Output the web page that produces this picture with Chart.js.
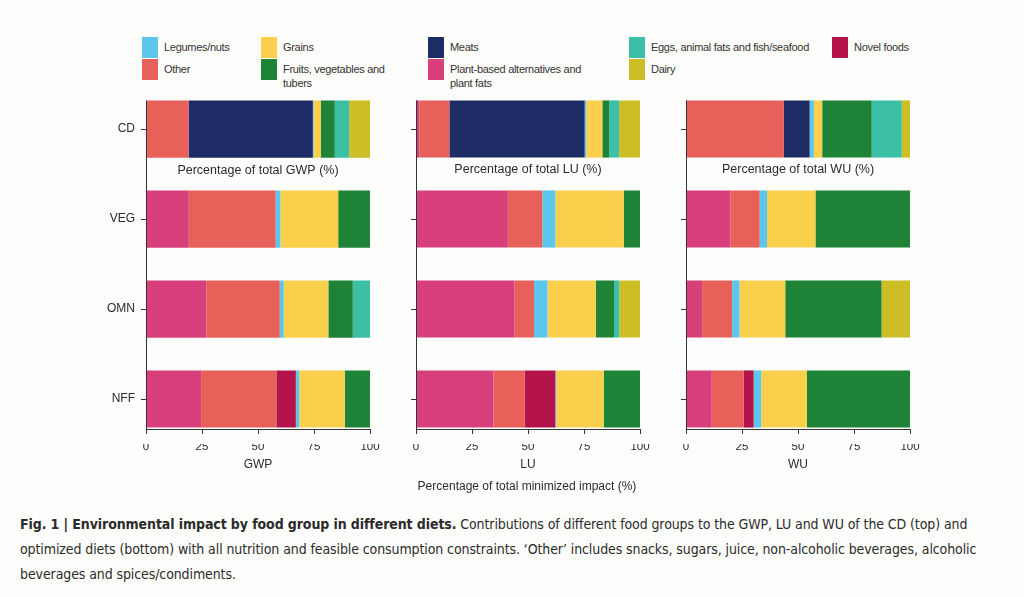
<!DOCTYPE html>
<html>
<head>
<meta charset="utf-8">
<script src="https://cdn.jsdelivr.net/npm/chart.js@4.4.1/dist/chart.umd.min.js"></script>
<style>
  html, body { margin: 0; padding: 0; background: #fdfdfb; }
  body { width: 1024px; height: 597px; position: relative; overflow: hidden; font-family: "Liberation Sans", Arial, sans-serif; color: #2b2b2b; }
  .panel { position: absolute; top: 77px; width: 284px; height: 403px; }
  .lg { position: absolute; font-family: "Liberation Sans", Arial, sans-serif; font-size: 11px; letter-spacing: -0.3px; line-height: 14px; color: #333; }
  .sw { position: absolute; width: 16px; height: 21px; }
  #xtitle { position: absolute; left: 377px; width: 300px; top: 479px; text-align: center; font-size: 12px; color: #2b2b2b; }
  #caption { position: absolute; left: 20px; top: 512px; width: 1000px; font-family: "DejaVu Sans Condensed", "Liberation Sans", sans-serif; font-size: 14px; letter-spacing: -0.1px; line-height: 25px; color: #2b2b2b; white-space: nowrap; }
</style>
</head>
<body>
<div id="legend"></div>
<div class="panel" style="left:96px"><canvas id="c1" width="284" height="403"></canvas></div>
<div class="panel" style="left:366px"><canvas id="c2" width="284" height="403"></canvas></div>
<div class="panel" style="left:636px"><canvas id="c3" width="284" height="403"></canvas></div>
<div id="xtitle">Percentage of total minimized impact (%)</div>
<div id="caption"><b>Fig. 1 | Environmental impact by food group in different diets.</b> Contributions of different food groups to the GWP, LU and WU of the CD (top) and<br>optimized diets (bottom) with all nutrition and feasible consumption constraints. ‘Other’ includes snacks, sugars, juice, non-alcoholic beverages, alcoholic<br>beverages and spices/condiments.</div>
<script>
// ---- data ----
const diets = ['CD', 'VEG', 'OMN', 'NFF'];
const xTicks = [0, 25, 50, 75, 100];
const groupNames = ['Plant-based alternatives and plant fats', 'Other', 'Meats', 'Novel foods', 'Legumes/nuts', 'Grains', 'Fruits, vegetables and tubers', 'Eggs, animal fats and fish/seafood', 'Dairy'];
const groupColors = ['#d8407c', '#e8605a', '#1f2d66', '#b3124a', '#5cc6ec', '#f9cf4c', '#1e8237', '#3cbfa4', '#cdbd27'];

// GWP (% of total)
const gwpPlant   = [0, 19.1, 26.9, 24.6];
const gwpOther   = [19.0, 38.8, 32.8, 33.6];
const gwpMeats   = [55.5, 0, 0, 0];
const gwpNovel   = [0, 0, 0, 8.7];
const gwpLegumes = [0.3, 2.1, 1.8, 1.5];
const gwpGrains  = [3.2, 25.8, 19.9, 20.4];
const gwpFruits  = [6.3, 14.2, 10.9, 11.2];
const gwpEggs    = [6.4, 0, 7.7, 0];
const gwpDairy   = [9.3, 0, 0, 0];

// LU (% of total)
const luPlant   = [1.5, 41.0, 44.0, 34.6];
const luOther   = [13.4, 15.4, 8.7, 13.9];
const luMeats   = [60.4, 0, 0, 0];
const luNovel   = [0, 0, 0, 13.7];
const luLegumes = [0.7, 5.8, 6.0, 0.4];
const luGrains  = [7.2, 30.6, 21.6, 21.2];
const luFruits  = [3.0, 7.2, 8.1, 16.2];
const luEggs    = [4.5, 0, 2.4, 0];
const luDairy   = [9.3, 0, 9.2, 0];

// WU (% of total)
const wuPlant   = [0, 19.9, 7.2, 11.5];
const wuOther   = [43.7, 13.0, 13.4, 14.2];
const wuMeats   = [11.5, 0, 0, 0];
const wuNovel   = [0, 0, 0, 4.5];
const wuLegumes = [1.9, 3.3, 3.3, 3.4];
const wuGrains  = [3.7, 21.6, 20.4, 20.4];
const wuFruits  = [22.1, 42.2, 43.0, 46.0];
const wuEggs    = [13.4, 0, 0, 0];
const wuDairy   = [3.7, 0, 12.7, 0];

const panelTitles = ['GWP', 'LU', 'WU'];
const panelLabels = ['Percentage of total GWP (%)', 'Percentage of total LU (%)', 'Percentage of total WU (%)'];

// ---- legend (HTML) ----
const legendOrder = [
  [4, 142, 37], [5, 261, 37], [2, 428, 37], [7, 629, 37], [3, 832, 37],
  [1, 142, 59], [6, 261, 59], [0, 428, 59], [8, 629, 59]
];
const legendText = {0: 'Plant-based alternatives and<br>plant fats', 6: 'Fruits, vegetables and<br>tubers'};
const lgDiv = document.getElementById('legend');
legendOrder.forEach(([gi, lx, ly]) => {
  const sw = document.createElement('div');
  sw.className = 'sw';
  sw.style.left = lx + 'px'; sw.style.top = ly + 'px'; sw.style.background = groupColors[gi];
  lgDiv.appendChild(sw);
  const t = document.createElement('div');
  t.className = 'lg';
  t.style.left = (lx + 22) + 'px'; t.style.top = (ly + 3) + 'px';
  t.innerHTML = legendText[gi] || groupNames[gi];
  lgDiv.appendChild(t);
});

const BAR_PCT = 0.635;

const axesPlugin = {
  id: 'customAxes',
  afterDraw(chart) {
    const { ctx } = chart;
    const x = chart.scales.x, y = chart.scales.y;
    const step = y.getPixelForValue(1) - y.getPixelForValue(0);
    const half = step * BAR_PCT / 2;
    const top = y.getPixelForValue(0) - half;
    const axisY = Math.round(y.getPixelForValue(diets.length - 1) + half + 1);
    ctx.save();
    ctx.strokeStyle = '#333';
    ctx.lineWidth = 1;
    ctx.beginPath();
    ctx.moveTo(x.left + 0.5, top);
    ctx.lineTo(x.left + 0.5, axisY + 0.5);
    ctx.lineTo(x.right, axisY + 0.5);
    diets.forEach((d, i) => {
      const py = Math.round(y.getPixelForValue(i)) + 0.5;
      ctx.moveTo(x.left - 5, py); ctx.lineTo(x.left, py);
    });
    xTicks.forEach(v => {
      const px = Math.round(x.getPixelForValue(v)) + 0.5;
      ctx.moveTo(px, axisY); ctx.lineTo(px, axisY + 5);
    });
    ctx.stroke();
    // section label between CD and VEG
    const midY = (y.getPixelForValue(0) + y.getPixelForValue(1)) / 2;
    ctx.fillStyle = '#2b2b2b';
    ctx.font = '12.5px "Liberation Sans", Arial, sans-serif';
    ctx.textAlign = 'center';
    ctx.textBaseline = 'middle';
    ctx.fillText(chart.options.plugins.customAxes.label, (x.left + x.right) / 2, midY - 4);
    ctx.restore();
  }
};

function makeChart(id, idx, series) {
  const datasets = series.map((vals, i) => ({
    label: groupNames[i],
    data: vals,
    backgroundColor: groupColors[i],
    borderWidth: 0,
    barPercentage: BAR_PCT,
    categoryPercentage: 1
  }));
  return new Chart(document.getElementById(id), {
    type: 'bar',
    data: { labels: diets, datasets },
    plugins: [axesPlugin],
    options: {
      indexAxis: 'y',
      responsive: false,
      animation: false,
      devicePixelRatio: 1,
      layout: { padding: { top: 7, right: 10, bottom: 0, left: 0 } },
      plugins: {
        legend: { display: false },
        tooltip: { enabled: false },
        customAxes: { label: panelLabels[idx] }
      },
      scales: {
        x: {
          stacked: true, min: 0, max: 100,
          afterFit(s) { s.height = 36; },
          grid: { display: false, drawTicks: false },
          border: { display: false },
          ticks: { stepSize: 25, padding: -4, color: '#2b2b2b', font: { size: 11.5, family: '"Liberation Sans", Arial, sans-serif' }, maxRotation: 0 },
          title: { display: true, text: panelTitles[idx], color: '#2b2b2b', font: { size: 12, family: '"Liberation Sans", Arial, sans-serif' }, padding: { top: 0, bottom: 8 } }
        },
        y: {
          stacked: true,
          afterFit(s) { s.width = 50; },
          grid: { display: false, drawTicks: true, tickLength: 11 },
          border: { display: false },
          ticks: { display: idx === 0, padding: 0, color: '#2b2b2b', font: { size: 12, family: '"Liberation Sans", Arial, sans-serif' } }
        }
      }
    }
  });
}

makeChart('c1', 0, [gwpPlant, gwpOther, gwpMeats, gwpNovel, gwpLegumes, gwpGrains, gwpFruits, gwpEggs, gwpDairy]);
makeChart('c2', 1, [luPlant, luOther, luMeats, luNovel, luLegumes, luGrains, luFruits, luEggs, luDairy]);
makeChart('c3', 2, [wuPlant, wuOther, wuMeats, wuNovel, wuLegumes, wuGrains, wuFruits, wuEggs, wuDairy]);
</script>
</body>
</html>
